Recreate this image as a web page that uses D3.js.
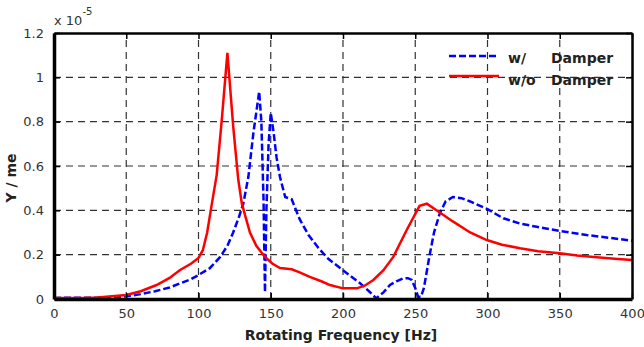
<!DOCTYPE html>
<html>
<head>
<meta charset="utf-8">
<script src="https://cdn.jsdelivr.net/npm/d3@7"></script>
<style>
  body { margin: 0; background: #fff; }
  svg { display: block; font-family: "DejaVu Sans", sans-serif; }
</style>
</head>
<body>
<svg></svg>
<script>
var width = 644;
var height = 347;

// values are in units of 1e-5 (shown as "x 10^-5" on the axis)
var hzWith = [0, 30, 40, 50, 60, 70, 80, 87, 95, 100, 108, 115, 120, 124, 128, 131, 134.5, 138, 142,
  143.5, 145, 146, 147, 148.5, 150, 152, 154, 156.4, 160, 164.5, 170, 176, 183, 190, 198, 205, 212,
  218, 223, 228, 232.5, 237, 241.7, 245, 247.5, 250, 252, 254, 256, 260, 263, 267, 271, 276, 282,
  288, 300, 311, 322.5, 334, 350, 368.6, 387, 400];
var yWith = [0.005, 0.006, 0.008, 0.012, 0.022, 0.035, 0.052, 0.07, 0.09, 0.108, 0.14, 0.19, 0.24,
  0.30, 0.37, 0.43, 0.55, 0.75, 0.935, 0.8, 0.45, 0.03, 0.4, 0.7, 0.84, 0.75, 0.64, 0.55, 0.46, 0.45,
  0.36, 0.29, 0.23, 0.18, 0.14, 0.105, 0.07, 0.035, 0.003, 0.03, 0.063, 0.08, 0.093, 0.094, 0.086,
  0.05, 0.01, 0.01, 0.05, 0.2, 0.3, 0.387, 0.44, 0.46, 0.455, 0.44, 0.405, 0.364, 0.34, 0.326, 0.307,
  0.289, 0.274, 0.263];

var hzWithout = [0, 20, 30, 40, 50, 60, 71, 80, 87, 95, 100, 103, 106, 109, 112.6, 116, 120, 124,
  127.5, 130, 135.6, 140, 146, 151, 156.4, 164.5, 170, 177, 185, 191, 200, 209.5, 215, 221, 228,
  234.8, 244, 253, 258, 267, 276, 288, 299.5, 310, 322.5, 335, 350, 362, 375.6, 388, 400];
var yWithout = [0.005, 0.005, 0.007, 0.012, 0.018, 0.035, 0.063, 0.095, 0.13, 0.16, 0.185, 0.22, 0.3,
  0.42, 0.56, 0.8, 1.11, 0.78, 0.54, 0.43, 0.30, 0.24, 0.19, 0.16, 0.14, 0.134, 0.12, 0.10, 0.08,
  0.063, 0.048, 0.048, 0.06, 0.086, 0.13, 0.19, 0.31, 0.42, 0.43, 0.39, 0.35, 0.30, 0.266, 0.245,
  0.229, 0.215, 0.206, 0.196, 0.188, 0.182, 0.176];

var xTicks = [0, 50, 100, 150, 200, 250, 300, 350, 400];
var yTicks = [0, 0.2, 0.4, 0.6, 0.8, 1, 1.2];
var seriesTags = ["w/", "w/o"];
var seriesLabel = "Damper";

var m = {left: 54, right: 12, top: 33, bottom: 48};

var svg = d3.select('svg')
    .attr('width', width)
    .attr('height', height);

var x = d3.scaleLinear().domain([0, 400]).range([m.left, width - m.right]);
var y = d3.scaleLinear().domain([0, 1.2]).range([height - m.bottom, m.top]);

// grid
svg.append('g').selectAll('line')
    .data(xTicks.slice(1, -1))
    .enter().append('line')
    .attr('x1', d => x(d)).attr('x2', d => x(d))
    .attr('y1', y(0)).attr('y2', y(1.2))
    .attr('stroke', '#333').attr('stroke-width', 1.2).attr('stroke-dasharray', '7,5');
svg.append('g').selectAll('line')
    .data(yTicks.slice(1, -1))
    .enter().append('line')
    .attr('x1', x(0)).attr('x2', x(400))
    .attr('y1', d => y(d)).attr('y2', d => y(d))
    .attr('stroke', '#333').attr('stroke-width', 1.2).attr('stroke-dasharray', '7,5');

var line = d3.line().x(d => x(d[0])).y(d => y(d[1]));

svg.append('path')
    .datum(d3.zip(hzWith, yWith))
    .attr('d', line)
    .attr('fill', 'none').attr('stroke', '#0000ff').attr('stroke-width', 2.5)
    .attr('stroke-dasharray', '7,3');

svg.append('path')
    .datum(d3.zip(hzWithout, yWithout))
    .attr('d', line)
    .attr('fill', 'none').attr('stroke', '#ff0000').attr('stroke-width', 2.5);

// axes (ticks pointing inward)
var fmt = d => d === 0 ? '0' : d3.format('')(+d.toFixed(1));

var xAxis = svg.append('g')
    .attr('transform', 'translate(0,' + y(0) + ')')
    .call(d3.axisBottom(x).tickValues(xTicks).tickSizeInner(-6).tickSizeOuter(0).tickPadding(10));
var yAxis = svg.append('g')
    .attr('transform', 'translate(' + x(0) + ',0)')
    .call(d3.axisLeft(y).tickValues(yTicks).tickFormat(fmt).tickSizeInner(-6).tickSizeOuter(0).tickPadding(10));
svg.append('g')
    .attr('transform', 'translate(0,' + y(1.2) + ')')
    .call(d3.axisTop(x).tickValues(xTicks).tickSizeInner(-6).tickSizeOuter(0).tickFormat(''));
svg.append('g')
    .attr('transform', 'translate(' + x(400) + ',0)')
    .call(d3.axisRight(y).tickValues(yTicks).tickSizeInner(-6).tickSizeOuter(0).tickFormat(''));

svg.selectAll('.domain').attr('stroke', '#000').attr('stroke-width', 2.5);
xAxis.select('.domain').attr('stroke-width', 3.5);
yAxis.select('.domain').attr('stroke-width', 3.5);
svg.selectAll('.tick line').attr('stroke', '#000').attr('stroke-width', 1.5);
svg.selectAll('.tick text').attr('font-size', 13).attr('fill', '#333')
    .attr('font-family', '"DejaVu Sans", sans-serif');

// exponent label
var ex = svg.append('text').attr('x', 54).attr('y', 25).attr('font-size', 13).attr('fill', '#333');
ex.append('tspan').text('x 10');
ex.append('tspan').attr('dy', -10).attr('font-size', 10).text('-5');

// axis titles
svg.append('text')
    .attr('x', 341).attr('y', 340)
    .attr('text-anchor', 'middle').attr('font-size', 14).attr('font-weight', 'bold').attr('fill', '#222')
    .text('Rotating Frequency [Hz]');
svg.append('text')
    .attr('transform', 'translate(16,178) rotate(-90)')
    .attr('text-anchor', 'middle').attr('font-size', 14).attr('font-weight', 'bold').attr('fill', '#222')
    .text('Y / me');

// legend
var lg = svg.append('g');
lg.append('line').attr('x1', 449).attr('x2', 497).attr('y1', 56).attr('y2', 56)
    .attr('stroke', '#0000ff').attr('stroke-width', 2.5).attr('stroke-dasharray', '7,3');
lg.append('line').attr('x1', 449).attr('x2', 499).attr('y1', 76).attr('y2', 76)
    .attr('stroke', '#ff0000').attr('stroke-width', 2.5);
var items = lg.selectAll('g.item')
    .data(seriesTags)
    .enter().append('g').attr('class', 'item')
    .attr('transform', (d, i) => 'translate(0,' + (63 + i * 22) + ')');
items.append('text')
    .attr('x', 508)
    .attr('font-size', 14).attr('font-weight', 'bold').attr('fill', '#222')
    .text(d => d);
items.append('text')
    .attr('x', 551)
    .attr('font-size', 14).attr('font-weight', 'bold').attr('fill', '#222')
    .text(seriesLabel);
</script>
</body>
</html>
